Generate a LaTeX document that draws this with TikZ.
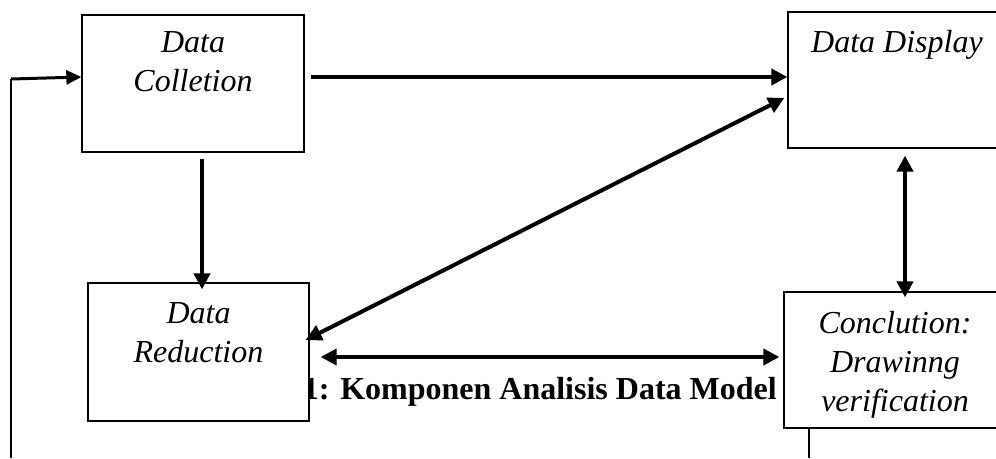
\documentclass[tikz,border=0pt]{standalone}
\usepackage{fontspec}
\setmainfont{Liberation Serif}
\usetikzlibrary{arrows.meta,positioning}

\begin{document}
\begin{tikzpicture}[x=1pt,y=-1pt,
    box/.style={draw,line width=1.3pt,fill=white,inner sep=0pt},
    txt/.style={font=\fontsize{32}{39}\selectfont\itshape,align=center,inner sep=0pt},
    arr/.style={line width=4pt,-{Triangle[length=16pt,width=16pt]}},
    darr/.style={line width=4pt,{Triangle[length=16pt,width=16pt]}-{Triangle[length=16pt,width=16pt]}}]
    \useasboundingbox (0,0) rectangle (996,458);
    \clip (0,0) rectangle (996,458);
%    \draw[gray!50, thin, step=50] (0,0) grid (996,458);

    \node[font=\fontsize{32}{39}\selectfont\bfseries,inner sep=0pt,anchor=base east] (cap) at (777,399) {1: Komponen Analisis Data Model};

    \node[box,minimum width=222pt,minimum height=137pt] (col) at (193,83.5) {};
    \node[box,minimum width=218pt,minimum height=136pt] (dis) at (897,80) {};
    \node[box,minimum width=221pt,minimum height=138pt] (red) at (198.5,352) {};
    \node[box,minimum width=222pt,minimum height=136pt] (con) at (895,360) {};

    \node[txt,below=17pt of col.north] (colT) {Data\\Colletion};
    \node[txt,below=19pt of dis.north] (disT) {Data Display};
    \node[txt,below=20pt of red.north] (redT) {Data\\Reduction};
    \node[txt,below=20pt of con.north] (conT) {Conclution:\\Drawinng\\verification};

    \coordinate (fbB) at (11,458);
    \coordinate (fbT) at (11,79);
    \coordinate (conB) at (809,458);
    \draw[line width=1.4pt] (fbB) -- (fbT);
    \draw[line width=3pt,-{Triangle[length=15pt,width=14pt]}] (fbT) -- ([yshift=6.5pt]col.west);
    \draw[line width=1.4pt] ([xshift=-86pt]con.south) -- (conB);

    \draw[arr] ([xshift=6pt,yshift=6.5pt]col.east) -- ([yshift=3pt]dis.west);
    \draw[arr] ([xshift=9pt,yshift=-6pt]col.south) -- ([xshift=3.5pt,yshift=-7pt]red.north);
    \draw[darr] ([xshift=-4pt,yshift=12pt]red.east) -- ([xshift=-3pt,yshift=-18pt]dis.west);
    \draw[darr] ([xshift=11pt,yshift=-5pt]red.east) -- ([xshift=-4pt,yshift=3pt]con.west);
    \draw[darr] ([xshift=8pt,yshift=-7pt]dis.south) -- ([xshift=10pt,yshift=-6pt]con.north);

\end{tikzpicture}
\end{document}
